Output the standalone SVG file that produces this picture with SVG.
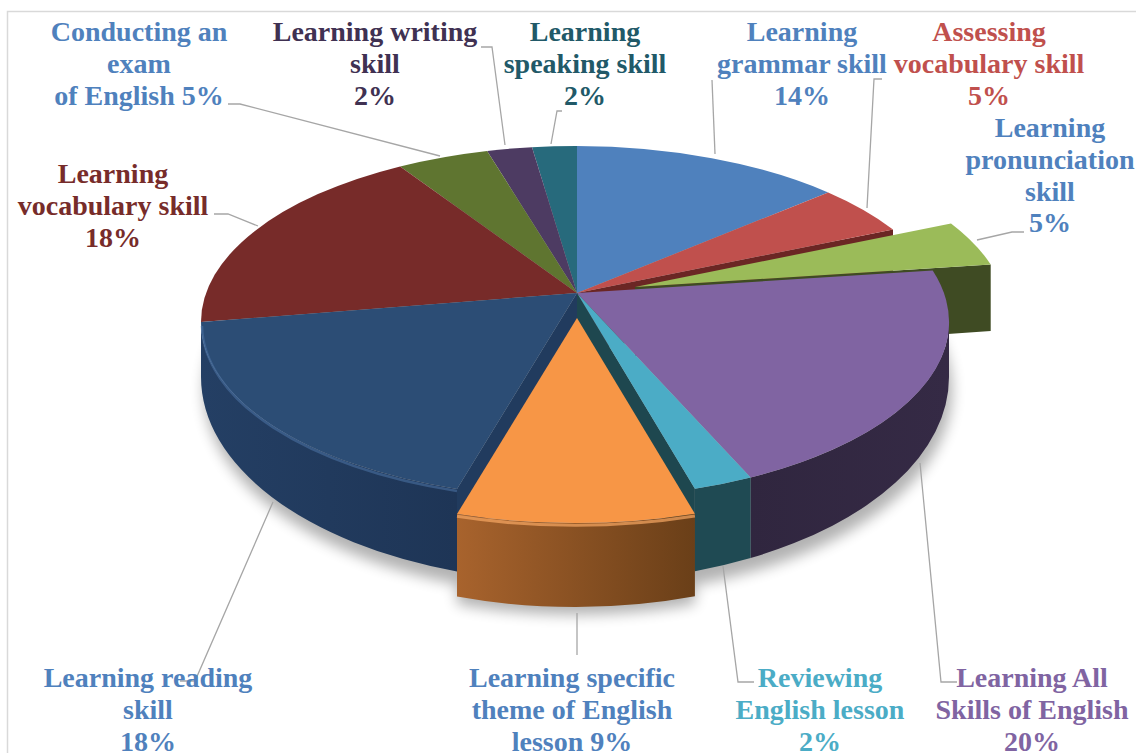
<svg xmlns="http://www.w3.org/2000/svg" width="1136" height="753" viewBox="0 0 1136 753">
<style>
  .lbl { font-family: "Liberation Serif", "Times New Roman", serif; font-weight: bold; font-size: 28px; text-anchor: middle; }
  .lead { fill: none; stroke: #A6A6A6; stroke-width: 1.3; }
</style>
<defs>
  <filter id="blur" x="-20%" y="-20%" width="140%" height="140%">
    <feGaussianBlur stdDeviation="7"/>
  </filter>
  <linearGradient id="gOrangeSide" x1="457" y1="0" x2="695" y2="0" gradientUnits="userSpaceOnUse">
    <stop offset="0" stop-color="#A8632D"/>
    <stop offset="1" stop-color="#6A3F18"/>
  </linearGradient>
  <linearGradient id="gReadSide" x1="201" y1="0" x2="457" y2="0" gradientUnits="userSpaceOnUse">
    <stop offset="0" stop-color="#243F64"/>
    <stop offset="1" stop-color="#1E3556"/>
  </linearGradient>
  <linearGradient id="gPurpleSide" x1="750" y1="0" x2="949" y2="0" gradientUnits="userSpaceOnUse">
    <stop offset="0" stop-color="#30263F"/>
    <stop offset="1" stop-color="#352A45"/>
  </linearGradient>
</defs>
<rect x="0" y="0" width="1136" height="753" fill="#FFFFFF"/>
<rect x="7.5" y="11.5" width="1160" height="780" fill="none" stroke="#D9D9D9" stroke-width="1.5"/>

<g id="shadow" filter="url(#blur)" opacity="0.3">
  <ellipse cx="578" cy="390" rx="374" ry="205" fill="#000"/>
  <path d="M 457 560 L 695 560 L 695 604 A 374 205 0 0 1 457 604 Z" fill="#000"/>
</g>

<g id="slice-assessing-back">
  <path d="M 577 293 L 893 229.4 L 893 289 L 577 353 Z" fill="#6B2624"/>
</g>

<g id="slice-pronunciation">
  <path d="M 635 287 L 990.7 264.5 L 990.7 331 L 635 356 Z" fill="#3F4B23"/>
  <path d="M 635 287 L 951 223.4 A 374 176 0 0 1 990.7 264.5 Z" fill="#9BBB59"/>
</g>

<g id="slice-grammar">
  <path d="M 577 293 L 577 146 A 374 176 0 0 1 828.2 192.4 Z" fill="#4F81BD"/>
</g>
<g id="slice-assessing">
  <path d="M 577 293 L 828.2 192.4 A 374 176 0 0 1 893 229.4 Z" fill="#C0504D"/>
</g>
<g id="slice-speaking">
  <path d="M 577 293 L 532 147.2 A 374 176 0 0 1 577 146 Z" fill="#276A7C"/>
</g>
<g id="slice-writing">
  <path d="M 577 293 L 487.1 150.9 A 374 176 0 0 1 532 147.2 Z" fill="#4D3B62"/>
</g>
<g id="slice-exam">
  <path d="M 577 293 L 400.1 166.4 A 374 176 0 0 1 487.1 150.9 Z" fill="#5F7530"/>
</g>
<g id="slice-vocabulary">
  <path d="M 577 293 L 201 322 A 374 176 0 0 1 400.1 166.4 Z" fill="#772B29"/>
</g>

<g id="slice-all-skills">
  <path d="M 949 322 A 374 176 0 0 1 750.6 477.4 L 750.6 558 A 374 205 0 0 0 949 377 Z" fill="url(#gPurpleSide)"/>
  <path d="M 577 293 L 932.7 270.5 A 374 176 0 0 1 750.6 477.4 Z" fill="#8064A2"/>
</g>

<g id="slice-reviewing">
  <path d="M 577 293 L 694.9 488.7 L 694.9 571.2 L 577 363 Z" fill="#1E474F"/>
  <path d="M 750.6 477.4 A 374 176 0 0 1 694.9 488.7 L 694.9 571.2 A 374 205 0 0 0 750.6 558 Z" fill="#1F4A53"/>
  <path d="M 577 293 L 750.6 477.4 A 374 176 0 0 1 694.9 488.7 Z" fill="#4BACC6"/>
</g>

<g id="slice-reading">
  <path d="M 577 293 L 457 489 L 457 571.5 L 577 363 Z" fill="#213B5E"/>
  <path d="M 457 489 A 374 176 0 0 1 201 322 L 201 377 A 374 205 0 0 0 457 571.5 Z" fill="url(#gReadSide)"/>
  <path d="M 577 293 L 457 489 A 374 176 0 0 1 201 322 Z" fill="#2C4D75"/>
  <path d="M 457 491 A 374 176 0 0 1 202 326" fill="none" stroke="#4A70A0" stroke-width="2.5" opacity="0.6"/>
</g>

<g id="slice-theme">
  <path d="M 694.9 513.7 A 374 176 0 0 1 457 514 L 457 596.5 A 374 205 0 0 0 694.9 596.2 Z" fill="url(#gOrangeSide)"/>
  <path d="M 577 318 L 694.9 513.7 A 374 176 0 0 1 457 514 Z" fill="#F79646"/>
  <path d="M 694.9 516 A 374 176 0 0 1 457 516.3" fill="none" stroke="#F8A864" stroke-width="3" opacity="0.7"/>
</g>

<g id="connectors">
  <polyline class="lead" points="228,104 240,104 440,156"/>
  <polyline class="lead" points="481,47 492,47 505,145"/>
  <polyline class="lead" points="562,111 557,111 551,144"/>
  <polyline class="lead" points="712,80 715,154"/>
  <polyline class="lead" points="882,79 874,79 867,208"/>
  <polyline class="lead" points="1024,232 1012,232 977,240"/>
  <polyline class="lead" points="214,214 228,214 258,226"/>
  <polyline class="lead" points="273,502 195,681 180,681"/>
  <polyline class="lead" points="577,613 577,655"/>
  <polyline class="lead" points="723,566 738,682 754,682"/>
  <polyline class="lead" points="920,463 941,682 957,682"/>
</g>

<g id="label-exam" class="lbl" fill="#4F81BD">
  <text x="139" y="41">Conducting an</text>
  <text x="139" y="73">exam</text>
  <text x="139" y="105">of English 5%</text>
</g>
<g id="label-writing" class="lbl" fill="#403152">
  <text x="375" y="41">Learning writing</text>
  <text x="375" y="73">skill</text>
  <text x="375" y="105">2%</text>
</g>
<g id="label-speaking" class="lbl" fill="#215968">
  <text x="585" y="41">Learning</text>
  <text x="585" y="73">speaking skill</text>
  <text x="585" y="105">2%</text>
</g>
<g id="label-grammar" class="lbl" fill="#4F81BD">
  <text x="802" y="41">Learning</text>
  <text x="802" y="73">grammar skill</text>
  <text x="802" y="105">14%</text>
</g>
<g id="label-assessing" class="lbl" fill="#C0504D">
  <text x="989" y="41">Assessing</text>
  <text x="989" y="73">vocabulary skill</text>
  <text x="989" y="105">5%</text>
</g>
<g id="label-pronunciation" class="lbl" fill="#4F81BD">
  <text x="1050" y="137">Learning</text>
  <text x="1050" y="169">pronunciation</text>
  <text x="1050" y="201">skill</text>
  <text x="1050" y="232">5%</text>
</g>
<g id="label-vocabulary" class="lbl" fill="#772C2A">
  <text x="113" y="183">Learning</text>
  <text x="113" y="215">vocabulary skill</text>
  <text x="113" y="247">18%</text>
</g>
<g id="label-reading" class="lbl" fill="#4F81BD">
  <text x="148" y="687">Learning reading</text>
  <text x="148" y="719">skill</text>
  <text x="148" y="751">18%</text>
</g>
<g id="label-theme" class="lbl" fill="#4F81BD">
  <text x="572" y="687">Learning specific</text>
  <text x="572" y="719">theme of English</text>
  <text x="572" y="751">lesson 9%</text>
</g>
<g id="label-reviewing" class="lbl" fill="#4BACC6">
  <text x="820" y="687">Reviewing</text>
  <text x="820" y="719">English lesson</text>
  <text x="820" y="751">2%</text>
</g>
<g id="label-all-skills" class="lbl" fill="#8064A2">
  <text x="1032" y="687">Learning All</text>
  <text x="1032" y="719">Skills of English</text>
  <text x="1032" y="751">20%</text>
</g>
</svg>
